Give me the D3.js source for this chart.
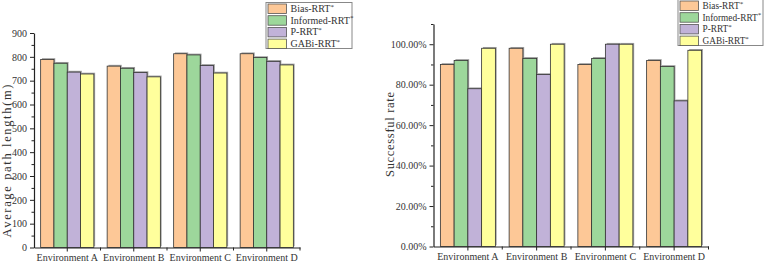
<!DOCTYPE html>
<html>
<head>
<meta charset="utf-8">
<script src="https://cdn.jsdelivr.net/npm/d3@7"></script>
<style>
  body { margin: 0; background: #fff; }
  svg text { font-family: "Liberation Serif", "DejaVu Serif", serif; fill: #333; }
</style>
</head>
<body>
<svg id="chart" width="764" height="263"></svg>
<script>
// data
var categories = ["Environment A", "Environment B", "Environment C", "Environment D"];
var seriesNames = ["Bias-RRT", "Informed-RRT", "P-RRT", "GABi-RRT"];
var seriesColors = ["#fdc897", "#9dd79b", "#c1b2d8", "#ffff9c"];

var pathBias     = [789, 761, 813, 813];
var pathInformed = [773, 752, 808, 797];
var pathP        = [736, 734, 764, 781];
var pathGABi     = [728, 716, 732, 766];

var rateBias     = [0.90, 0.98, 0.90, 0.92];
var rateInformed = [0.92, 0.93, 0.93, 0.89];
var rateP        = [0.78, 0.85, 1.00, 0.72];
var rateGABi     = [0.98, 1.00, 1.00, 0.97];

var pathTicks = [0, 100, 200, 300, 400, 500, 600, 700, 800, 900];
var rateTicks = [0, 0.2, 0.4, 0.6, 0.8, 1.0];

var svg = d3.select("#chart");

function drawPanel(opt) {
  var g = svg.append("g");
  var x = d3.scaleBand().domain(categories).range([opt.x0, opt.x1]).padding(0);
  var bw = x.bandwidth();
  var xs = d3.scaleBand().domain(seriesNames).range([bw * 0.1, bw * 0.9]).padding(0);
  var y = d3.scaleLinear().domain(opt.domain).range([opt.yBottom, opt.yTop]);

  var rows = [];
  categories.forEach(function (c, i) {
    seriesNames.forEach(function (s, j) {
      rows.push({cat: c, ser: s, idx: j, v: opt.values[j][i]});
    });
  });

  // shadow
  g.selectAll("rect.shadow").data(rows).enter().append("rect")
    .attr("class", "shadow")
    .attr("x", function (d) { return x(d.cat) + xs(d.ser) + 1.3; })
    .attr("y", function (d) { return y(d.v) - 1.3; })
    .attr("width", xs.bandwidth())
    .attr("height", function (d) { return opt.yBottom - y(d.v); })
    .attr("fill", "#a0a0a0");

  g.selectAll("rect.bar").data(rows).enter().append("rect")
    .attr("class", "bar")
    .attr("x", function (d) { return x(d.cat) + xs(d.ser); })
    .attr("y", function (d) { return y(d.v); })
    .attr("width", xs.bandwidth())
    .attr("height", function (d) { return opt.yBottom - y(d.v); })
    .attr("fill", function (d) { return seriesColors[d.idx]; })
    .attr("stroke", "#333")
    .attr("stroke-width", 0.8);

  // y axis
  var minor = [];
  for (var k = 0; k < opt.ticks.length; k++) {
    var m = opt.ticks[k] + opt.minorStep;
    if (m <= opt.domain[1] + 1e-9) minor.push(m);
  }
  g.append("g")
    .attr("transform", "translate(" + opt.x0 + ",0)")
    .call(d3.axisLeft(y).tickValues(minor).tickSize(2.5).tickFormat(""))
    .call(function (a) { a.select(".domain").remove(); a.selectAll("line").attr("stroke", "#222"); });
  var ya = g.append("g")
    .attr("transform", "translate(" + opt.x0 + ",0)")
    .call(d3.axisLeft(y).tickValues(opt.ticks).tickSize(4).tickSizeOuter(0).tickPadding(3).tickFormat(opt.fmt));
  ya.select(".domain").attr("stroke", "#222").attr("stroke-width", 1.2);
  ya.selectAll("line").attr("stroke", "#222");
  ya.selectAll("text").attr("font-size", "10px").attr("font-family", "Liberation Serif, serif").attr("fill", "#333");

  // x axis
  var xa = g.append("g")
    .attr("transform", "translate(0," + opt.yBottom + ")")
    .call(d3.axisBottom(x).tickSize(4).tickSizeOuter(0).tickPadding(2));
  xa.select(".domain").attr("stroke", "#222").attr("stroke-width", 1.2);
  xa.selectAll("line").attr("stroke", "#222");
  xa.selectAll("text").attr("font-size", "10px").attr("font-family", "Liberation Serif, serif").attr("fill", "#333");
  var bounds = categories.map(function (c) { return x(c); }).concat([opt.x1]).slice(1);
  g.selectAll("line.minx").data(bounds).enter().append("line")
    .attr("x1", function (d) { return d; }).attr("x2", function (d) { return d; })
    .attr("y1", opt.yBottom).attr("y2", opt.yBottom + 3)
    .attr("stroke", "#222");

  // axis title
  g.append("text")
    .attr("transform", "translate(" + opt.titleX + "," + opt.titleY + ") rotate(-90)")
    .attr("text-anchor", "middle")
    .attr("dominant-baseline", "central")
    .attr("font-size", "12.5px")
    .attr("textLength", opt.titleLen)
    .attr("lengthAdjust", "spacing")
    .text(opt.title);

  // legend
  var lg = g.append("g");
  lg.append("rect")
    .attr("x", opt.lx).attr("y", opt.ly)
    .attr("width", opt.lw).attr("height", 46)
    .attr("fill", "#fff").attr("stroke", "#888").attr("stroke-width", 1);
  seriesNames.forEach(function (s, j) {
    var cy = opt.ly + 6 + j * 11.7;
    lg.append("rect")
      .attr("x", opt.lx + 2).attr("y", cy - 4.5)
      .attr("width", 18.5).attr("height", 9.5)
      .attr("fill", seriesColors[j]).attr("stroke", "#555").attr("stroke-width", 0.8);
    var t = lg.append("text")
      .attr("x", opt.lx + 24.5).attr("y", cy + 3.5)
      .attr("font-size", opt.lfont);
    t.append("tspan").text(s);
    t.append("tspan").attr("dy", -3.5).attr("font-size", "7px").text("*");
  });
}

drawPanel({
  x0: 34, x1: 300, yBottom: 247.5, yTop: 33,
  domain: [0, 900], ticks: pathTicks, minorStep: 50,
  values: [pathBias, pathInformed, pathP, pathGABi],
  fmt: d3.format("d"),
  title: "Average path length(m)", titleX: 7, titleY: 161, titleLen: 153,
  lx: 266, ly: 2.5, lw: 86, lfont: "10px"
});

drawPanel({
  x0: 433.5, x1: 708.5, yBottom: 246.5, yTop: 24,
  domain: [0, 1.1], ticks: rateTicks, minorStep: 0.1,
  values: [rateBias, rateInformed, rateP, rateGABi],
  fmt: d3.format(".2%"),
  title: "Successful rate", titleX: 390, titleY: 134.5, titleLen: 85,
  lx: 678, ly: -0.5, lw: 85, lfont: "9.3px"
});
</script>
</body>
</html>
